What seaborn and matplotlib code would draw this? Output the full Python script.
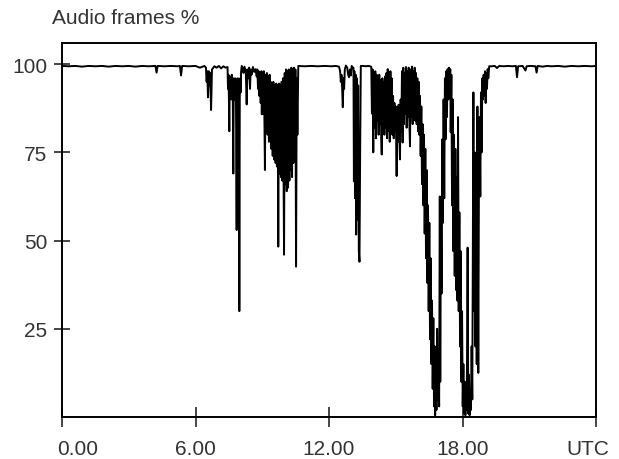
import matplotlib
matplotlib.use("Agg")
import matplotlib.pyplot as plt
from matplotlib.transforms import ScaledTranslation
import pandas as pd
import seaborn as sns

# --- data (hours UTC, % of audio frames) ---
night_h = [0.0, 0.3, 0.6, 0.9, 1.2, 1.5, 1.8, 2.1, 2.4, 2.7,
           3.0, 3.3, 3.6, 3.9, 4.2, 4.25, 4.3, 4.6, 4.9, 5.2,
           5.3, 5.35, 5.4, 5.7, 6.0, 6.2, 6.4]
night_pct = [99.5, 99.4, 99.5, 99.3, 99.5, 99.4, 99.5, 99.3, 99.5, 99.4,
             99.5, 99.3, 99.5, 99.4, 99.5, 97.6, 99.5, 99.4, 99.5, 99.4,
             99.5, 96.8, 99.5, 99.4, 99.5, 99.0, 99.5]

morning_h = [6.47, 6.50, 6.53, 6.56, 6.60, 6.63, 6.66, 6.70, 6.74,
             6.85, 6.95, 7.05, 7.15, 7.25, 7.35, 7.44,
             7.46, 7.48, 7.50, 7.52, 7.54, 7.57, 7.59, 7.61, 7.63, 7.65,
             7.67, 7.70, 7.72, 7.74, 7.76, 7.78, 7.80, 7.82, 7.85, 7.87,
             7.89, 7.91, 7.93, 7.95, 7.97, 7.99, 8.01, 8.03, 8.05, 8.08,
             8.12, 8.16, 8.20, 8.26, 8.30, 8.33, 8.37, 8.41, 8.45, 8.48,
             8.52, 8.58, 8.64, 8.70, 8.75]
morning_pct = [99.0, 95.0, 98.0, 90.6, 98.0, 94.0, 97.5, 87.0, 98.5,
               99.4, 99.0, 99.5, 98.8, 99.4, 99.0, 99.2,
               93.0, 97.0, 91.0, 81.0, 96.5, 92.0, 96.0, 90.0, 97.0, 92.0,
               95.0, 69.0, 96.0, 90.0, 95.5, 91.0, 96.0, 89.0, 53.0, 94.0,
               90.0, 96.0, 88.0, 93.0, 30.0, 91.0, 96.0, 92.0, 98.0, 99.5,
               98.8, 97.5, 99.3, 98.0, 88.6, 98.5, 96.0, 99.0, 93.0, 98.5,
               97.0, 99.2, 97.8, 98.6, 96.5]

late_morning_h = [8.78, 8.81, 8.84, 8.87, 8.90, 8.93, 8.96, 8.98, 9.01, 9.04,
                  9.07, 9.10, 9.12, 9.15, 9.18, 9.21, 9.24, 9.27, 9.30, 9.33,
                  9.35, 9.38, 9.41, 9.44, 9.47, 9.50, 9.53, 9.57, 9.60, 9.63,
                  9.66, 9.69, 9.72, 9.75, 9.78, 9.81, 9.84, 9.87, 9.90, 9.93,
                  9.96, 9.98, 10.01, 10.04, 10.07, 10.10, 10.13, 10.16, 10.19, 10.22,
                  10.25, 10.28, 10.31, 10.34, 10.37, 10.40, 10.43, 10.46, 10.49, 10.52,
                  10.55, 10.58, 10.62]
late_morning_pct = [98.5, 93.0, 98.0, 91.0, 97.5, 89.0, 98.0, 85.8, 97.5, 86.0,
                    98.0, 83.0, 70.0, 97.0, 81.0, 97.5, 80.0, 96.5, 78.0, 97.0,
                    81.0, 95.0, 76.0, 94.5, 74.0, 95.0, 73.0, 94.0, 72.0, 94.5,
                    71.0, 94.0, 48.3, 94.5, 69.0, 94.0, 68.0, 95.0, 67.0, 96.0,
                    66.0, 46.0, 97.5, 66.0, 98.5, 64.0, 98.0, 65.0, 98.5, 67.0,
                    98.0, 70.0, 99.0, 68.0, 98.5, 72.0, 99.0, 75.0, 98.5, 42.6,
                    96.0, 80.0, 99.5]

noon_h = [10.9, 11.2, 11.5, 11.8, 12.1, 12.3, 12.45,
          12.50, 12.53, 12.56, 12.59, 12.62, 12.65, 12.68, 12.71,
          12.76, 12.82, 12.86, 12.90, 12.94, 12.98,
          13.02, 13.06, 13.10, 13.12, 13.14, 13.17, 13.20, 13.22, 13.25, 13.28,
          13.31, 13.34, 13.37, 13.40, 13.43,
          13.55, 13.65, 13.75, 13.85]
noon_pct = [99.4, 99.5, 99.4, 99.5, 99.4, 99.5, 99.3,
            98.0, 95.0, 97.0, 93.5, 87.8, 96.0, 93.0, 98.5,
            99.6, 99.0, 97.0, 96.3, 98.5, 96.8,
            99.5, 99.0, 99.0, 66.8, 98.0, 62.0, 97.0, 51.7, 96.0, 56.0,
            94.0, 47.0, 44.0, 75.0, 99.5,
            99.5, 99.4, 99.5, 99.4]

afternoon_h = [13.90, 13.93, 13.96, 13.99, 14.02, 14.05, 14.08, 14.11, 14.14, 14.17,
               14.20, 14.23, 14.26, 14.29, 14.32, 14.35, 14.37, 14.40, 14.43, 14.46,
               14.49, 14.52, 14.55, 14.58, 14.61, 14.64, 14.67, 14.70, 14.73, 14.76,
               14.79, 14.82, 14.85, 14.88, 14.91, 14.94, 14.97, 15.00, 15.04, 15.07,
               15.10, 15.13, 15.16, 15.19, 15.22, 15.25, 15.28, 15.31, 15.34, 15.37,
               15.40, 15.43, 15.46, 15.49, 15.52, 15.55, 15.58, 15.61, 15.64, 15.67,
               15.70, 15.73, 15.76, 15.79, 15.82, 15.85, 15.88, 15.91, 15.94, 15.97,
               16.00]
afternoon_pct = [99.2, 86.0, 98.5, 75.0, 97.5, 82.0, 98.0, 79.0, 97.0, 84.0,
                 96.5, 80.0, 97.0, 83.0, 95.5, 79.0, 74.4, 96.0, 81.0, 95.0,
                 80.0, 96.5, 82.0, 97.5, 79.0, 98.6, 81.0, 97.0, 78.0, 98.0,
                 82.0, 96.0, 80.0, 91.0, 79.0, 89.0, 81.0, 88.0, 68.3, 87.8,
                 78.0, 88.5, 80.0, 73.0, 90.0, 81.0, 98.0, 77.8, 99.0, 83.0,
                 97.5, 86.0, 99.2, 82.0, 98.0, 85.0, 99.0, 84.0, 76.7, 98.5,
                 85.0, 99.3, 83.0, 98.0, 86.0, 99.0, 84.0, 97.5, 83.0, 96.0,
                 81.0]

evening_h = [16.03, 16.06, 16.09, 16.12, 16.15, 16.18, 16.21, 16.24, 16.27, 16.30,
             16.33, 16.36, 16.39, 16.42, 16.45, 16.48, 16.51, 16.54, 16.57, 16.60,
             16.63, 16.66, 16.69, 16.72, 16.75, 16.77, 16.80, 16.83, 16.86, 16.89,
             16.92, 16.95, 16.98, 17.00, 17.03, 17.06, 17.09, 17.12, 17.15, 17.18,
             17.21, 17.24, 17.27, 17.30, 17.33, 17.36, 17.39, 17.42, 17.45,
             17.47, 17.50, 17.53, 17.56, 17.59, 17.62, 17.65, 17.68, 17.71, 17.74,
             17.77, 17.80, 17.83, 17.86, 17.89, 17.92, 17.95, 17.98, 18.01, 18.04,
             18.07, 18.10, 18.13, 18.16, 18.19, 18.23, 18.26, 18.29, 18.32, 18.35,
             18.38, 18.41, 18.44, 18.47, 18.49, 18.52, 18.55, 18.58, 18.61, 18.64,
             18.67, 18.71, 18.74, 18.77, 18.80, 18.83, 18.86, 18.89, 18.92, 18.95,
             18.98, 19.01, 19.04, 19.07, 19.10, 19.13, 19.16, 19.20]
evening_pct = [95.0, 80.0, 91.0, 74.0, 88.0, 66.0, 83.0, 60.0, 80.0, 52.0,
               76.0, 45.0, 70.0, 38.0, 60.0, 30.0, 55.0, 22.0, 45.0, 15.0,
               33.0, 8.0, 28.0, 3.0, 20.0, 0.5, 15.0, 2.0, 25.0, 5.0,
               18.0, 3.0, 62.5, 10.0, 60.0, 35.0, 78.7, 55.0, 90.0, 62.0,
               96.0, 78.7, 98.0, 85.0, 98.6, 90.0, 99.0, 95.0, 98.6,
               80.7, 97.0, 60.0, 90.0, 47.0, 80.0, 40.0, 76.0, 36.0, 68.0,
               33.0, 85.0, 30.0, 58.0, 20.0, 47.0, 10.0, 30.0, 3.0, 15.0,
               1.0, 10.0, 0.5, 8.0, 2.0, 48.0, 1.0, 12.0, 0.5, 6.0,
               2.0, 20.0, 5.0, 60.0, 92.0, 30.0, 75.0, 20.0, 70.0, 15.0,
               88.0, 12.5, 70.0, 85.0, 62.5, 92.0, 75.0, 96.0, 90.0, 97.0,
               91.0, 98.0, 89.0, 97.5, 93.0, 98.6, 96.0, 99.4]

night2_h = [19.30, 19.45, 19.55, 19.65, 19.85, 20.05, 20.25, 20.40, 20.45, 20.50,
            20.70, 20.83, 20.88, 21.05, 21.28, 21.33, 21.38, 21.6, 21.8, 22.0,
            22.3, 22.6, 22.9, 23.2, 23.5, 23.8, 24.0]
night2_pct = [99.4, 99.5, 98.9, 99.5, 99.4, 99.5, 99.4, 99.5, 96.3, 99.4,
              99.5, 98.2, 99.4, 99.5, 99.4, 97.6, 99.5, 99.3, 99.5, 99.4,
              99.5, 99.3, 99.5, 99.4, 99.5, 99.4, 99.5]

x_ticks = [0, 6, 12, 18, 24]
x_labels = ["0.00", "6.00", "12.00", "18.00", "UTC"]
y_ticks = [25, 50, 75, 100]

# stitch the pieces together
parts = [(night_h, night_pct), (morning_h, morning_pct),
         (late_morning_h, late_morning_pct), (noon_h, noon_pct),
         (afternoon_h, afternoon_pct), (evening_h, evening_pct),
         (night2_h, night2_pct)]
hours, pct = [], []
for h, p in parts:
    assert len(h) == len(p), (len(h), len(p))
    hours += h
    pct += p
df = pd.DataFrame({"utc": hours, "audio": pct})

sns.set_style("white")
plt.rcParams["font.family"] = ["Liberation Sans", "DejaVu Sans"]

fig = plt.figure(figsize=(6.19, 4.60), dpi=100)
ax = fig.add_axes([62 / 619, 42 / 460, 534 / 619, 374 / 460])

sns.lineplot(data=df, x="utc", y="audio", color="black", linewidth=1.4,
             estimator=None, sort=False, ax=ax)

ax.set_xlim(0, 24)
ax.set_ylim(0, 106)
ax.set_xticks(x_ticks)
ax.set_xticklabels(x_labels)
ax.set_yticks(y_ticks)
ax.set_xlabel("")
ax.set_ylabel("")

for s in ax.spines.values():
    s.set_color("black")
    s.set_linewidth(1.4)

ax.tick_params(axis="x", direction="inout", length=14, width=1.2,
               labelsize=15, labelcolor="#333333", pad=9, bottom=True)
ax.tick_params(axis="y", direction="inout", length=11, width=1.2,
               labelsize=15, labelcolor="#333333", pad=5, left=True)

# the scanned original has its first and last x labels nudged inwards
xshift = {"0.00": 16, "UTC": -8}
for lab in ax.get_xticklabels():
    dx = xshift.get(lab.get_text(), 0)
    if dx:
        lab.set_transform(lab.get_transform() +
                          ScaledTranslation(dx / 100, 0, fig.dpi_scale_trans))

fig.text(52 / 619, 1 - 18 / 460, "Audio frames %", fontsize=15,
         color="#333333", ha="left", va="center")

fig.savefig("out.png", dpi=100, facecolor="white")
